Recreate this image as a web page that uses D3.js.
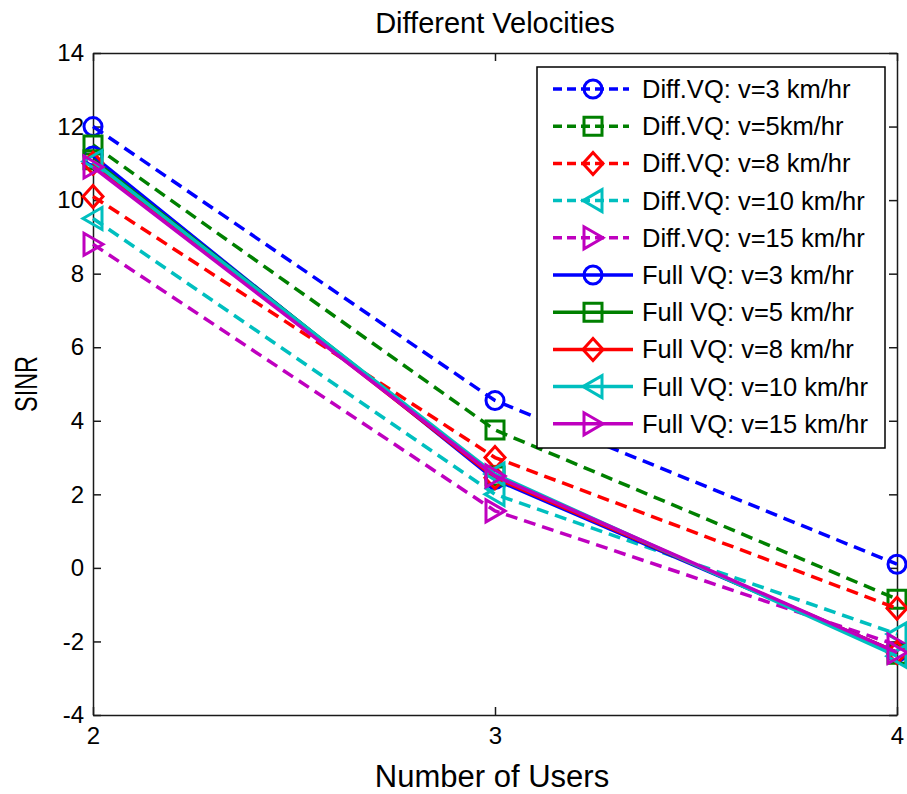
<!DOCTYPE html>
<html>
<head>
<meta charset="utf-8">
<script src="https://cdn.jsdelivr.net/npm/d3@7"></script>
<style>
  html, body { margin: 0; padding: 0; background: #fff; }
  svg { display: block; font-family: "Liberation Sans", Arial, Helvetica, sans-serif; }
</style>
</head>
<body>
<svg id="chart" width="907" height="794"></svg>
<script>
// Number of users on the x axis
const users = [2, 3, 4];

// SINR for differential VQ at each velocity
const diff3  = [12.0, 4.55, 0.1];
const diff5  = [11.5, 3.75, -0.85];
const diff8  = [10.1, 3.0, -1.1];
const diff10 = [9.5, 2.0, -1.8];
const diff15 = [8.8, 1.55, -2.1];

// SINR for full VQ at each velocity
const full3  = [11.2, 2.4, -2.3];
const full5  = [11.1, 2.5, -2.35];
const full8  = [11.0, 2.45, -2.3];
const full10 = [11.05, 2.55, -2.4];
const full15 = [10.9, 2.5, -2.3];

const seriesNames = [
  "Diff.VQ: v=3 km/hr", "Diff.VQ: v=5km/hr", "Diff.VQ: v=8 km/hr",
  "Diff.VQ: v=10 km/hr", "Diff.VQ: v=15 km/hr",
  "Full VQ: v=3 km/hr", "Full VQ: v=5 km/hr", "Full VQ: v=8 km/hr",
  "Full VQ: v=10 km/hr", "Full VQ: v=15 km/hr"
];
const seriesValues = [diff3, diff5, diff8, diff10, diff15, full3, full5, full8, full10, full15];
const seriesDashed = [true, true, true, true, true, false, false, false, false, false];
const seriesColors = ["#0000ff", "#008000", "#ff0000", "#00bfbf", "#bf00bf",
                      "#0000ff", "#008000", "#ff0000", "#00bfbf", "#bf00bf"];
const seriesMarkers = ["circle", "square", "diamond", "triangleLeft", "triangleRight",
                       "circle", "square", "diamond", "triangleLeft", "triangleRight"];

const yTicks = [-4, -2, 0, 2, 4, 6, 8, 10, 12, 14];
const xTicks = [2, 3, 4];

const svg = d3.select("#chart");
const plot = { left: 93, right: 897, top: 53, bottom: 715 };

const x = d3.scaleLinear().domain([2, 4]).range([plot.left, plot.right]);
const y = d3.scaleLinear().domain([-4, 14]).range([plot.bottom, plot.top]);

const fontTick = 24;
const axisColor = "#1a1a1a";
const plainNumber = d => String(d); // ASCII hyphen for negatives

// Title
svg.append("text")
  .attr("x", (plot.left + plot.right) / 2).attr("y", 33)
  .attr("text-anchor", "middle").attr("font-size", 29)
  .text("Different Velocities");

// Axes with inward ticks on all four sides
const tickLen = 8;
const axG = svg.append("g");

axG.append("g").attr("transform", `translate(0,${plot.bottom})`)
  .call(d3.axisBottom(x).tickValues(xTicks).tickSizeInner(-tickLen).tickSizeOuter(0)
        .tickPadding(12).tickFormat(plainNumber));
axG.append("g").attr("transform", `translate(0,${plot.top})`)
  .call(d3.axisTop(x).tickValues(xTicks).tickSizeInner(-tickLen).tickSizeOuter(0).tickFormat(""));
axG.append("g").attr("transform", `translate(${plot.left},0)`)
  .call(d3.axisLeft(y).tickValues(yTicks).tickSizeInner(-tickLen).tickSizeOuter(0)
        .tickPadding(9).tickFormat(plainNumber));
axG.append("g").attr("transform", `translate(${plot.right},0)`)
  .call(d3.axisRight(y).tickValues(yTicks).tickSizeInner(-tickLen).tickSizeOuter(0).tickFormat(""));

axG.selectAll(".domain").attr("stroke", axisColor).attr("stroke-width", 1.5);
axG.selectAll(".tick line").attr("stroke", axisColor).attr("stroke-width", 1.5);
axG.selectAll(".tick text")
  .attr("font-size", fontTick).attr("fill", "#000")
  .attr("font-family", "Liberation Sans, Arial, sans-serif");

// Axis labels
svg.append("text")
  .attr("x", (plot.left + plot.right) / 2 - 3).attr("y", 787)
  .attr("text-anchor", "middle").attr("font-size", 31)
  .text("Number of Users");
svg.append("text")
  .attr("transform", `translate(37,${(plot.top + plot.bottom) / 2}) rotate(-90)`)
  .attr("text-anchor", "middle").attr("font-size", 31)
  .attr("textLength", 56).attr("lengthAdjust", "spacingAndGlyphs")
  .text("SINR");

// Marker shapes
function markerPath(type, cx, cy) {
  const s = 9;
  switch (type) {
    case "square":
      return `M${cx - s},${cy - s}H${cx + s}V${cy + s}H${cx - s}Z`;
    case "diamond":
      return `M${cx},${cy - 11}L${cx + 10},${cy}L${cx},${cy + 11}L${cx - 10},${cy}Z`;
    case "triangleLeft":
      return `M${cx - 10},${cy}L${cx + 9},${cy - 11}L${cx + 9},${cy + 11}Z`;
    case "triangleRight":
      return `M${cx + 10},${cy}L${cx - 9},${cy - 11}L${cx - 9},${cy + 11}Z`;
  }
  return null;
}

function drawMarker(g, type, cx, cy, color) {
  if (type === "circle") {
    g.append("circle").attr("cx", cx).attr("cy", cy).attr("r", 9)
      .attr("fill", "none").attr("stroke", color).attr("stroke-width", 3);
  } else {
    g.append("path").attr("d", markerPath(type, cx, cy))
      .attr("fill", "none").attr("stroke", color).attr("stroke-width", 3)
      .attr("stroke-linejoin", "miter");
  }
}

const line = d3.line().x((d, i) => x(users[i])).y(d => y(d));

const dataG = svg.append("g");
seriesValues.forEach((vals, k) => {
  const g = dataG.append("g");
  g.append("path").datum(vals)
    .attr("d", line)
    .attr("fill", "none")
    .attr("stroke", seriesColors[k])
    .attr("stroke-width", 3.5)
    .attr("stroke-dasharray", seriesDashed[k] ? "12,7" : null);
  vals.forEach((v, i) => drawMarker(g, seriesMarkers[k], x(users[i]), y(v), seriesColors[k]));
});

// Legend
const leg = { x: 537, y: 67, w: 348, h: 381, row0: 89, dy: 37.2 };
const legG = svg.append("g");
legG.append("rect")
  .attr("x", leg.x).attr("y", leg.y).attr("width", leg.w).attr("height", leg.h)
  .attr("fill", "#fff").attr("stroke", "#000").attr("stroke-width", 1.5);

seriesNames.forEach((name, k) => {
  const cy = leg.row0 + k * leg.dy;
  const g = legG.append("g");
  g.append("line")
    .attr("x1", 553).attr("x2", seriesDashed[k] ? 629 : 633)
    .attr("y1", cy).attr("y2", cy)
    .attr("stroke", seriesColors[k]).attr("stroke-width", 3.5)
    .attr("stroke-dasharray", seriesDashed[k] ? "9,5" : null);
  drawMarker(g, seriesMarkers[k], 593, cy, seriesColors[k]);
  g.append("text")
    .attr("x", 642).attr("y", cy + 9)
    .attr("font-size", 25.5)
    .text(name);
});
</script>
</body>
</html>
